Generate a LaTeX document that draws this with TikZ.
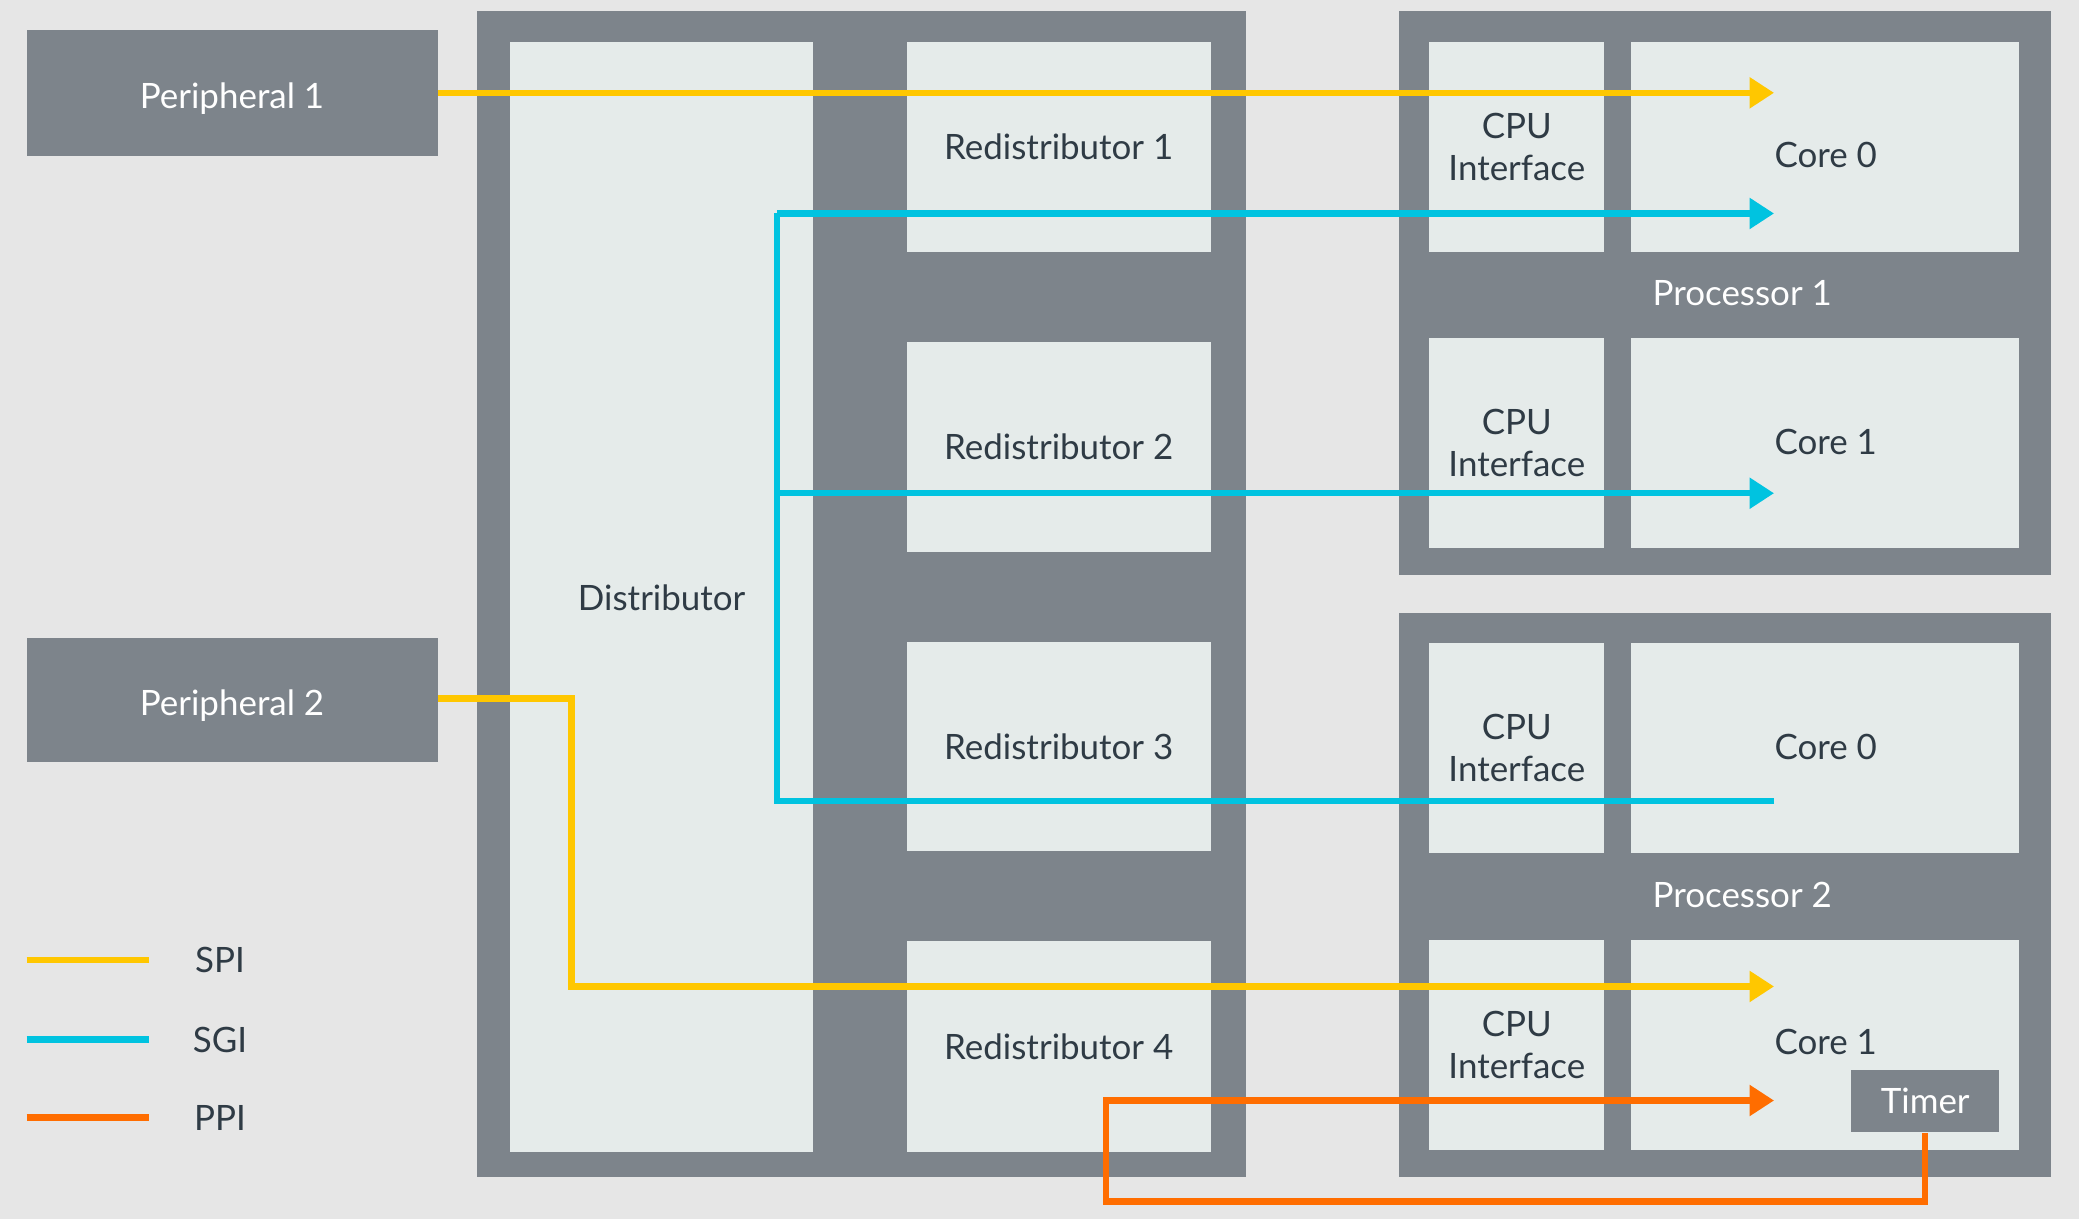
\documentclass[tikz,border=0pt]{standalone}
\usepackage{fontspec}
\setmainfont{Lato}
\usetikzlibrary{arrows.meta,fit}
\definecolor{bg}{HTML}{E6E6E6}
\definecolor{dk}{HTML}{7D848B}
\definecolor{lt}{HTML}{E5EBEA}
\definecolor{txt}{HTML}{2F3B45}
\definecolor{spi}{HTML}{FFC700}
\definecolor{sgi}{HTML}{00C3E0}
\definecolor{ppi}{HTML}{FF6D00}
\begin{document}
\begin{tikzpicture}[x=0.02cm,y=-0.02cm,
  lbl/.style={font=\fontsize{15}{18}\selectfont},
  dkbox/.style={fill=dk, inner sep=0pt},
  ltbox/.style={fill=lt, inner sep=0pt},
  wtext/.style={label={[lbl,text=white,align=center]center:#1}},
  ptext/.style={label={[lbl,text=white,align=center,yshift=-2.2pt]center:#1}},
  dtext/.style={label={[lbl,text=txt,align=center]center:#1}},
  wire/.style={line width=2.8pt},
  tip/.style={-{Triangle[length=0.37cm,width=0.45cm]}}]
% background
\fill[bg] (0,0) rectangle (1568,919);
\useasboundingbox (0,0) rectangle (1568,919);
% peripherals
\node[dkbox, fit={(20,23)(330,118)}, ptext={Peripheral 1}] (p1) {};
\node[dkbox, fit={(20,481)(330,575)}, ptext={Peripheral 2}] (p2) {};
% GIC
\node[dkbox, fit={(360,8)(940,888)}] (gic) {};
\node[ltbox, fit={(385,32)(613,869)}, dtext={Distributor}] (dist) {};
\node[ltbox, fit={(684,32)(913,190)}, dtext={Redistributor 1}] (r1) {};
\node[ltbox, fit={(684,258)(913,416)}, dtext={Redistributor 2}] (r2) {};
\node[ltbox, fit={(684,484)(913,642)}, dtext={Redistributor 3}] (r3) {};
\node[ltbox, fit={(684,710)(913,869)}, dtext={Redistributor 4}] (r4) {};
% Processor 1
\node[dkbox, fit={(1055,8)(1547,434)}] (proc1) {};
\node[ltbox, fit={(1078,32)(1210,190)}, dtext={CPU\\Interface}] (ci1) {};
\node[ltbox, fit={(1230,32)(1523,190)}] (c10) {};
\node[text=txt, lbl] at (1377,117) (c10l) {Core 0};
\node[ltbox, fit={(1078,255)(1210,413)}, dtext={CPU\\Interface}] (ci2) {};
\node[ltbox, fit={(1230,255)(1523,413)}] (c11) {};
\node[text=txt, lbl] at (1377,333) (c11l) {Core 1};
\node[text=white, lbl] at (1314,221) (proc1l) {Processor 1};
% Processor 2
\node[dkbox, fit={(1055,462)(1547,888)}] (proc2) {};
\node[ltbox, fit={(1078,485)(1210,643)}, dtext={CPU\\Interface}] (ci3) {};
\node[ltbox, fit={(1230,485)(1523,643)}] (c20) {};
\node[text=txt, lbl] at (1377,563) (c20l) {Core 0};
\node[ltbox, fit={(1078,709)(1210,867)}, dtext={CPU\\Interface}] (ci4) {};
\node[ltbox, fit={(1230,709)(1523,867)}] (c21) {};
\node[text=txt, lbl] at (1377,786) (c21l) {Core 1};
\node[text=white, lbl] at (1314,675) (proc2l) {Processor 2};
\node[dkbox, fit={(1396,807)(1508,854)}, wtext={Timer}] (timer) {};
% connector points
\coordinate (a1) at (1338,70);
\coordinate (a2) at (1338,161);
\coordinate (a3) at (1338,372);
\coordinate (s3) at (1338,604);
\coordinate (sgx) at (586,604);
\coordinate (a4) at (1338,744);
\coordinate (sp2) at (431,744);
\coordinate (a5) at (1338,830);
\coordinate (pp1) at (834,906);
\coordinate (pp2) at (834,830);
% SPI
\draw[wire, spi, tip] (p1.east |- a1) -- (a1);
\draw[wire, spi, tip] (p2.east |- 0,527) -| (sp2) -- (a4);
% SGI
\draw[wire, sgi] (s3) -- (sgx) -- (sgx |- a2);
\draw[wire, sgi, tip] (sgx |- a2) -- (a2);
\draw[wire, sgi, tip] (sgx |- a3) -- (a3);
% PPI
\draw[wire, ppi, tip] (timer.south) -- (timer.south |- pp1) -- (pp1) -- (pp2) -- (a5);
% legend
\coordinate (l1a) at (20,724); \coordinate (l1b) at (112,724);
\coordinate (l2a) at (20,784); \coordinate (l2b) at (112,784);
\coordinate (l3a) at (20,843); \coordinate (l3b) at (112,843);
\draw[wire, spi] (l1a) -- (l1b);
\draw[wire, sgi] (l2a) -- (l2b);
\draw[wire, ppi] (l3a) -- (l3b);
\node[text=txt, lbl] at (166,724) (lspi) {SPI};
\node[text=txt, lbl] at (166,784) (lsgi) {SGI};
\node[text=txt, lbl] at (166,843) (lppi) {PPI};
\end{tikzpicture}
\end{document}
